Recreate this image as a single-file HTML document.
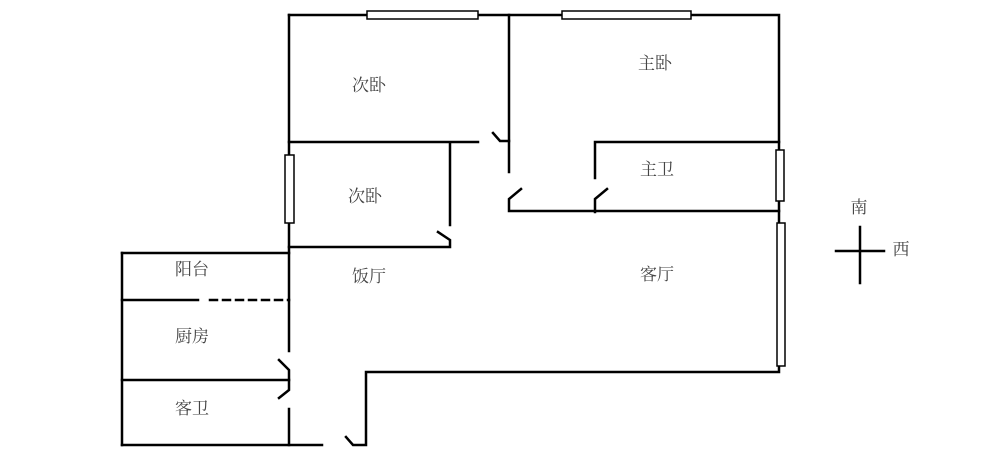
<!DOCTYPE html>
<html><head><meta charset="utf-8"><style>
html,body{margin:0;padding:0;background:#fff;width:1000px;height:463px;overflow:hidden}
svg{display:block}
text{font-family:"Liberation Serif","Noto Serif CJK SC",serif;font-size:17px;fill:#444;text-anchor:middle;dominant-baseline:middle}
</style></head><body>
<svg width="1000" height="463" viewBox="0 0 1000 463">
<g stroke="#000" stroke-width="2.5" fill="none" stroke-linecap="square">
<path d="M289 15 H779 V372 H366 V445 H353 L346 437"/>
<path d="M289 15 V351"/>
<path d="M289 409 V445"/>
<path d="M122 445 H322"/>
<path d="M279 360 L289 370 V390 L279 398"/>
<path d="M289 142 H478"/>
<path d="M493 133 L500 141 H509"/>
<path d="M509 15 V172"/>
<path d="M521 189 L509 199 V211 H779"/>
<path d="M595 178 V142 H779"/>
<path d="M607 189 L595 199 V212"/>
<path d="M450 143 V225"/>
<path d="M289 247 H450 V240 L438 232"/>
<path d="M122 253 H289"/>
<path d="M122 253 V445"/>
<path d="M122 300 H198"/>
<path d="M210 300 H289" stroke-dasharray="7,6"/>
<path d="M122 380 H289"/>
<path d="M836 251 H884 M860 227 V283"/>
</g>
<g stroke="#000" stroke-width="1.5" fill="#fff">
<rect x="367" y="11" width="111" height="8"/>
<rect x="562" y="11" width="129" height="8"/>
<rect x="285" y="155" width="9" height="68"/>
<rect x="776" y="150" width="8" height="51"/>
<rect x="777" y="223" width="8" height="143"/>
</g>
<text x="369" y="87">次卧</text>
<text x="655" y="65">主卧</text>
<text x="365" y="198">次卧</text>
<text x="657" y="171">主卫</text>
<text x="369" y="278">饭厅</text>
<text x="657" y="276">客厅</text>
<text x="192" y="271">阳台</text>
<text x="192" y="338">厨房</text>
<text x="192" y="410">客卫</text>
<text x="859" y="209">南</text>
<text x="901" y="251">西</text>
</svg>
</body></html>
